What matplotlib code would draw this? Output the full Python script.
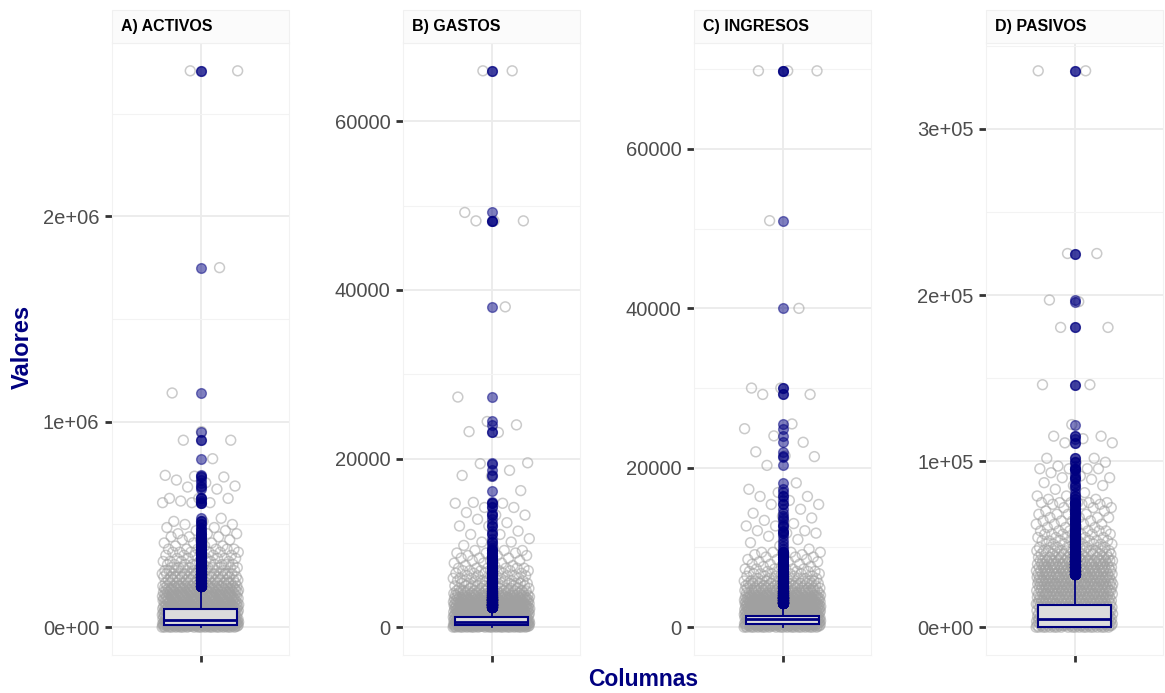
import numpy as np
import matplotlib
matplotlib.use('Agg')
import matplotlib.pyplot as plt
from matplotlib.patches import Rectangle
from matplotlib.ticker import MultipleLocator

plt.rcParams['font.family'] = ['Liberation Sans', 'DejaVu Sans']

paneles = ['A) ACTIVOS', 'B) GASTOS', 'C) INGRESOS', 'D) PASIVOS']

activos_valores = [0, 5000, 10000, 15000, 20000, 25000, 30000,
                   40000, 50000, 60000, 70000, 80000, 90000, 100000,
                   110000, 120000, 130000, 140000, 150000,
                   160000, 170000, 180000, 190000, 200000,
                   215000, 230000, 245000, 260000, 275000, 290000, 305000,
                   320000, 335000, 350000, 365000, 380000,
                   395000, 410000, 425000, 440000, 455000,
                   470000, 485000, 500000, 515000, 530000, 606000, 614000, 627000,
                   672000, 682000, 687000, 703000, 716000, 731000, 735000, 739000,
                   820000, 910000, 952000, 1140000, 1750000, 2708000]
activos_cuentas = [20, 26, 26, 26, 26, 26, 26,
                   26, 26, 26, 26, 26, 26, 26,
                   22, 22, 22, 22, 22,
                   18, 18, 18, 18, 18,
                   14, 14, 14, 14, 10, 10, 10,
                   6, 6, 6, 6, 6,
                   3, 3, 3, 3, 3,
                   2, 2, 2, 2, 1, 3, 1, 3,
                   1, 1, 1, 1, 1, 1, 1, 1,
                   1, 2, 1, 1, 1, 2]

gastos_valores = [0, 100, 200, 300, 400, 500, 600, 800, 1000, 1200, 1400, 1600, 1800,
                  2000, 2200, 2400, 2600, 2800, 3000, 3200, 3400, 3600,
                  3800, 4000, 4300, 4600, 4900, 5200, 5500,
                  5800, 6100, 6400, 6700, 7000,
                  7300, 7600, 7900, 8200, 8500, 8800, 9100,
                  9400, 9700, 10100, 10500, 11000, 11400, 12000, 12400, 12800,
                  13300, 13600, 14200, 14700, 14800,
                  16200, 17900, 18000, 18600, 19400, 19500,
                  23100, 23200, 24000, 24400, 27300, 38000, 48200, 49200, 66000]
gastos_cuentas = [20, 26, 26, 26, 26, 26, 26, 26, 26, 26, 26, 26, 26,
                  24, 24, 24, 24, 24, 20, 20, 20, 20,
                  14, 14, 14, 9, 9, 9, 9,
                  6, 6, 6, 6, 6,
                  3, 3, 3, 3, 3, 3, 3,
                  1, 1, 2, 1, 2, 1, 2, 1, 1,
                  2, 1, 2, 2, 1,
                  1, 1, 1, 1, 1, 1,
                  1, 1, 1, 1, 1, 1, 3, 1, 2]

ingresos_valores = [0, 150, 300, 450, 600, 800, 1000, 1200, 1400, 1600, 1800, 2000,
                    2200, 2400, 2600, 2800, 3000, 3200, 3400, 3600, 3800,
                    4000, 4300, 4600, 4900, 5200, 5500, 5800,
                    6100, 6400, 6700, 7000, 7300,
                    7600, 7900, 8200, 8500, 8800, 9100, 9400,
                    9800, 10200, 10600, 11000, 11400, 11800, 12100, 12700,
                    13000, 13400, 13700, 13900, 14300, 14800,
                    15400, 15900, 16400, 16900, 17300, 18100,
                    20300, 21400, 21500, 22000, 23200, 24000, 24900, 25500,
                    29200, 30000, 40000, 51000, 69800]
ingresos_cuentas = [20, 26, 26, 26, 26, 26, 26, 26, 26, 26, 26, 26,
                    24, 24, 24, 24, 24, 22, 22, 22, 22,
                    18, 18, 18, 12, 12, 12, 12,
                    6, 6, 6, 6, 6,
                    3, 3, 3, 3, 3, 3, 4,
                    1, 1, 1, 1, 1, 2, 2, 2,
                    1, 1, 1, 1, 1, 1,
                    2, 1, 2, 1, 1, 1,
                    1, 1, 1, 1, 1, 1, 1, 1,
                    2, 2, 1, 1, 3]

pasivos_valores = [0, 1000, 2000, 3500, 5000, 6500, 8000,
                   10000, 12000, 14000, 16000, 18000, 20000, 22000, 24000, 26000, 28000, 30000,
                   32000, 34000, 36000, 38000, 40000,
                   42000, 44000, 46000, 48000, 50000, 52000, 54000, 56000, 58000,
                   60000, 62000, 64000, 66000, 68000, 70000, 72000, 74000,
                   75000, 77000, 79000, 81000, 83000, 85300, 87000, 89000, 90000,
                   91000, 93000, 95400, 97000, 99300, 101700,
                   111000, 113500, 115000, 122000,
                   146000, 180500, 196000, 197000, 225000, 335000]
pasivos_cuentas = [20, 24, 24, 24, 24, 24, 24,
                   24, 24, 24, 24, 24, 24, 24, 24, 24, 24, 24,
                   20, 20, 20, 20, 20,
                   12, 12, 12, 8, 8, 8, 6, 6, 6,
                   4, 4, 4, 4, 4, 3, 3, 3,
                   6, 2, 2, 1, 1, 2, 1, 1, 2,
                   1, 1, 4, 1, 2, 2,
                   2, 1, 2, 1,
                   2, 2, 1, 1, 2, 2]

# cajas: q1, mediana, q3, bigote inferior, bigote superior
activos_caja = [10000, 35000, 87500, 0, 190000]
gastos_caja = [240, 600, 1150, 0, 2300]
ingresos_caja = [340, 1000, 1410, 0, 2800]
pasivos_caja = [400, 5200, 13200, 0, 31500]

activos_ticks = [0, 1000000, 2000000]
activos_etiq = ['0e+00', '1e+06', '2e+06']
gastos_ticks = [0, 20000, 40000, 60000]
gastos_etiq = ['0', '20000', '40000', '60000']
ingresos_ticks = [0, 20000, 40000, 60000]
ingresos_etiq = ['0', '20000', '40000', '60000']
pasivos_ticks = [0, 100000, 200000, 300000]
pasivos_etiq = ['0e+00', '1e+05', '2e+05', '3e+05']

datos = [
    (activos_valores, activos_cuentas, activos_caja, activos_ticks, activos_etiq),
    (gastos_valores, gastos_cuentas, gastos_caja, gastos_ticks, gastos_etiq),
    (ingresos_valores, ingresos_cuentas, ingresos_caja, ingresos_ticks, ingresos_etiq),
    (pasivos_valores, pasivos_cuentas, pasivos_caja, pasivos_ticks, pasivos_etiq),
]

azul = '#000080'
W, H = 1165, 693
izq = [112, 403, 694, 986]
ancho = 177
arriba, abajo = 43, 655

fig = plt.figure(figsize=(W / 100, H / 100), dpi=100)

for k, (vals, cuentas, caja, ticks, etiq) in enumerate(datos):
    assert len(vals) == len(cuentas)
    y = np.repeat(np.array(vals, dtype=float), cuentas)
    # jitter horizontal determinista
    idx = np.arange(len(y))
    x = 1 + ((idx * 0.6180339887) % 1 - 0.5) * 0.52

    ax = fig.add_axes([izq[k] / W, 1 - abajo / H, ancho / W, (abajo - arriba) / H])
    ax.set_facecolor('white')
    ax.scatter(x, y, s=50, facecolors='none', edgecolors='#A0A0A0',
               linewidths=1.1, alpha=0.55, zorder=2)

    q1, med, q3, wlo, whi = caja
    st = dict(q1=q1, med=med, q3=q3, whislo=wlo, whishi=whi, fliers=y[y > whi])
    ax.bxp([st], positions=[1], widths=0.5, patch_artist=True, showcaps=False,
           boxprops=dict(facecolor='#DCDCDC', edgecolor=azul, linewidth=1.5),
           medianprops=dict(color=azul, linewidth=2),
           whiskerprops=dict(color=azul, linewidth=1.3),
           flierprops=dict(marker='o', markersize=7, markerfacecolor=azul,
                           markeredgecolor=azul, alpha=0.5, linestyle='none'),
           zorder=3)

    rango = y.max() - y.min()
    ax.set_ylim(y.min() - 0.05 * rango, y.max() + 0.05 * rango)
    ax.set_xlim(0.4, 1.6)
    ax.set_yticks(ticks)
    ax.set_yticklabels(etiq)
    ax.yaxis.set_minor_locator(MultipleLocator((ticks[1] - ticks[0]) / 2))
    ax.set_xticks([1])
    ax.set_xticklabels([''])

    ax.grid(which='major', color='#EBEBEB', linewidth=1.3)
    ax.grid(which='minor', axis='y', color='#F3F3F3', linewidth=0.8)
    ax.set_axisbelow(True)
    for s in ax.spines.values():
        s.set_color('#F2F2F2')
        s.set_linewidth(0.8)
    ax.tick_params(axis='y', which='major', length=5, width=2, color='#333333',
                   labelsize=14.5, labelcolor='#4D4D4D', pad=4)
    ax.tick_params(axis='y', which='minor', length=0)
    ax.tick_params(axis='x', length=5, width=2, color='#333333')

    # franja del titulo del panel
    fig.add_artist(Rectangle((izq[k] / W, 1 - arriba / H), ancho / W, 33 / H,
                             transform=fig.transFigure, facecolor='#FBFBFB',
                             edgecolor='#F0F0F0', linewidth=0.8))
    fig.text((izq[k] + 9) / W, 1 - 27 / H, paneles[k], fontsize=11.5,
             fontweight='bold', color='black', ha='left', va='center')

fig.text(22 / W, 1 - 347 / H, 'Valores', rotation=90, color=azul, fontsize=17,
         fontweight='bold', ha='center', va='center')
fig.text(643 / W, 1 - 679 / H, 'Columnas', color=azul, fontsize=16.5,
         fontweight='bold', ha='center', va='center')

fig.savefig('out.png', dpi=100)
